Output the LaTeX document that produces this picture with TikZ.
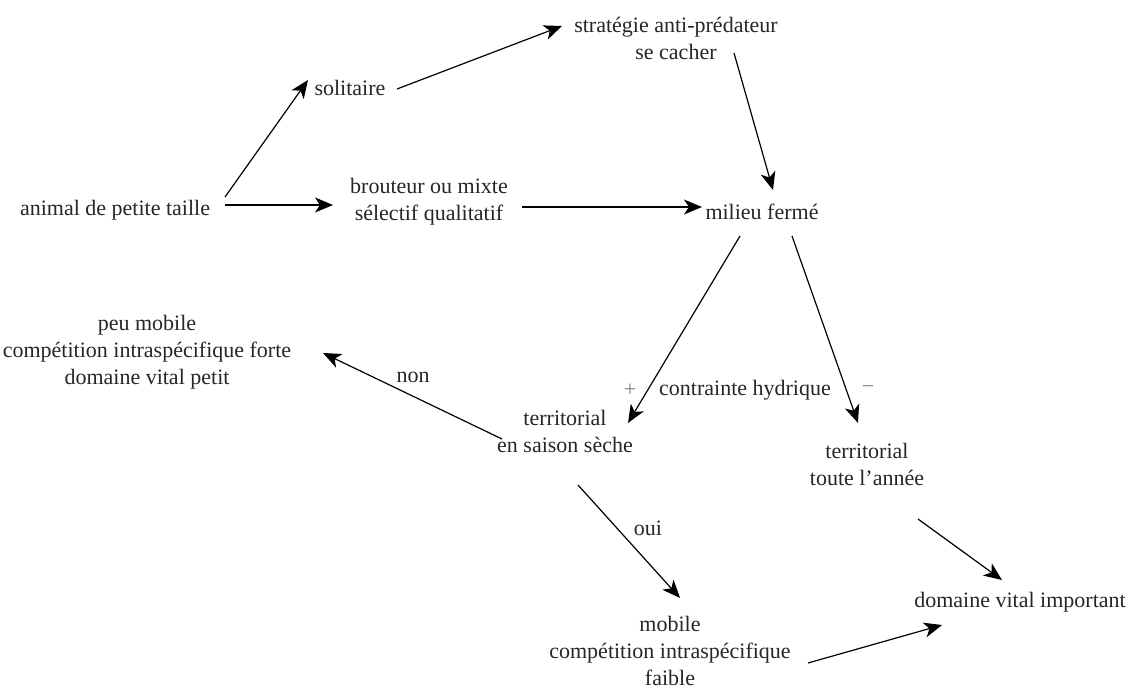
\documentclass[tikz,border=0pt]{standalone}
\usepackage{fontspec}
\setmainfont{Liberation Serif}
\usetikzlibrary{arrows.meta}
\begin{document}
\begin{tikzpicture}[x=1pt,y=-1pt,
  txt/.style={align=center,inner sep=0pt,text=black!85,font=\fontsize{22}{27}\selectfont},
  sgn/.style={txt,text=black!50},
  arr/.style={-{Stealth[length=18pt,width=15pt,inset=5pt]},line width=1.2pt}]
\path[use as bounding box] (0,0) rectangle (1135,692);
\node[txt] (anim) at (115,210) {animal de petite taille};
\node[txt] (sol) at (350,88) {solitaire};
\node[txt] (strat) at (676,38) {stratégie anti-prédateur\\se cacher};
\node[txt] (brout) at (429,202) {brouteur ou mixte\\sélectif qualitatif};
\node[txt] (mil) at (762,212) {milieu fermé};
\node[txt] (peu) at (147,352) {peu mobile\\compétition intraspécifique forte\\domaine vital petit};
\node[txt] (ts) at (565,431) {territorial\\en saison sèche};
\node[txt] (ta) at (867,464) {territorial\\toute l'année};
\node[txt] (mob) at (670,651) {mobile\\compétition intraspécifique\\faible};
\node[txt] (dom) at (1020,602) {domaine vital important};
\node[txt] (ch) at (745,390) {contrainte hydrique};
\node[sgn] (plus) at (630,390) {+};
\node[sgn] (minus) at (868,390) {\textminus};
\node[txt] (non) at (413,377) {non};
\node[txt] (oui) at (648,528) {oui};
\draw[arr] ([shift={(110,-13)}]anim.center) -- ([shift={(-42,-8)}]sol.center);
\draw[arr] ([shift={(110,-5)}]anim.center) -- ([shift={(-96,3)}]brout.center);
\draw[arr] ([shift={(47,1)}]sol.center) -- ([shift={(-114,-12)}]strat.center);
\draw[arr] ([shift={(93,5)}]brout.center) -- ([shift={(-60,-5)}]mil.center);
\draw[arr] ([shift={(58,15)}]strat.center) -- ([shift={(11,-22)}]mil.center);
\draw[arr] ([shift={(-22,24)}]mil.center) -- ([shift={(63,-8)}]ts.center);
\draw[arr] ([shift={(30,24)}]mil.center) -- ([shift={(-9,-41)}]ta.center);
\draw[arr] ([shift={(-63,8)}]ts.center) -- ([shift={(176,1)}]peu.center);
\draw[arr] ([shift={(13,54)}]ts.center) -- ([shift={(10,-53)}]mob.center);
\draw[arr] ([shift={(51,55)}]ta.center) -- ([shift={(-18,-22)}]dom.center);
\draw[arr] ([shift={(138,12)}]mob.center) -- ([shift={(-78,23)}]dom.center);
\end{tikzpicture}
\end{document}
